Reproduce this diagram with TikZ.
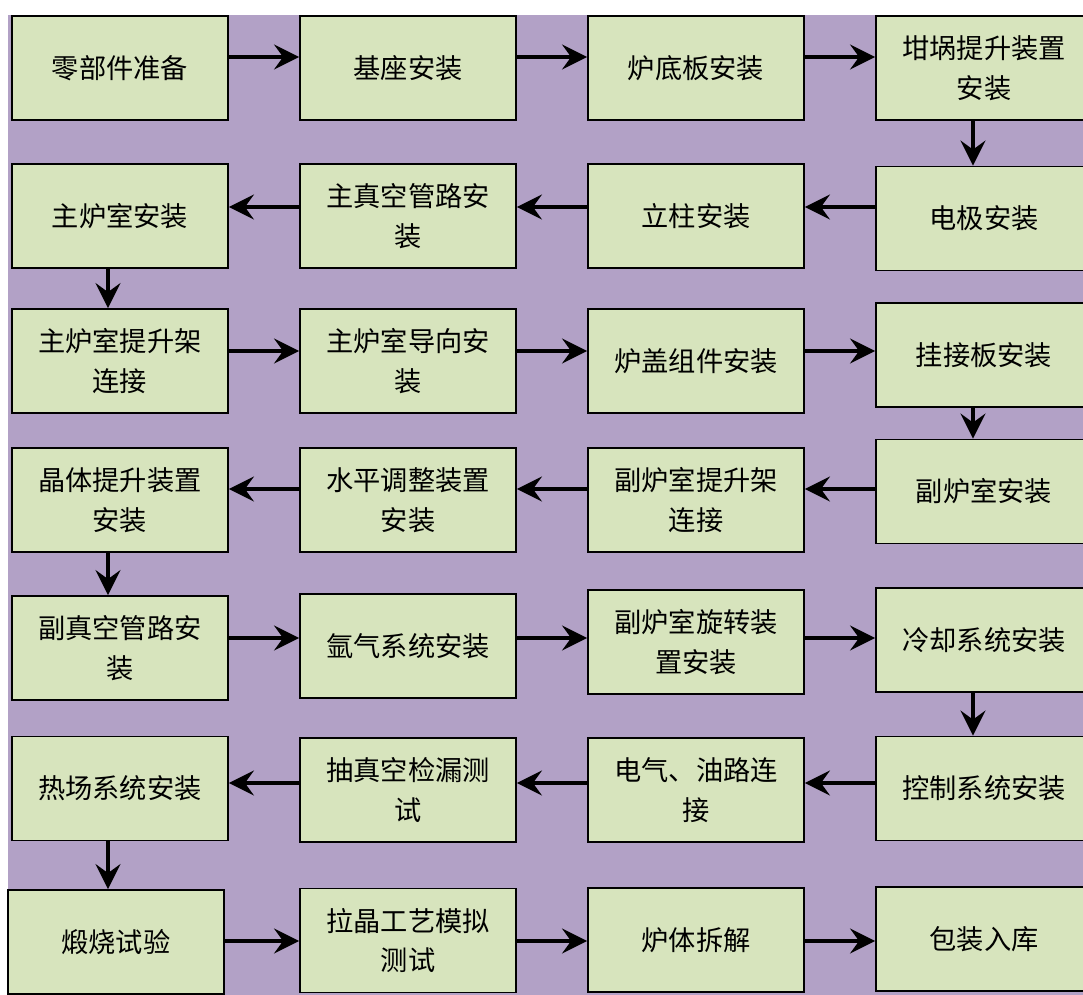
\documentclass[tikz,border=0pt]{standalone}
\usepackage{fontspec}
\newfontfamily\cjk{Noto Sans CJK SC}
\usetikzlibrary{arrows.meta}
\definecolor{BackClr}{rgb}{0.698,0.631,0.776}
\definecolor{BoxClr}{rgb}{0.843,0.894,0.741}

\begin{document}
\begin{tikzpicture}[x=0.02cm,y=-0.02cm,
  box/.style={draw=black,line width=1.1pt,fill=BoxClr,minimum width=4.32cm,minimum height=2.08cm,inner sep=0pt,align=center,font=\cjk\fontsize{15.5}{22.5}\selectfont},
  arr/.style={line width=1.9pt,-{Stealth[length=0.5cm,width=0.5cm,inset=0.18cm]}}]
\useasboundingbox (0,0) rectangle (1083,995);
\fill[BackClr] (8,15) rectangle (1083,995);

\node[box] (lbzb) at (120,68) {零部件准备};
\node[box] (jzaz) at (408,68) {基座安装};
\node[box] (ldbaz) at (696,68) {炉底板安装};
\node[box] (gguaz) at (984,68) {坩埚提升装置\\安装};

\node[box] (zlsaz) at (120,216) {主炉室安装};
\node[box] (zzkaz) at (408,216) {主真空管路安\\装};
\node[box] (lzaz) at (696,216) {立柱安装};
\node[box] (djaz) at (984,218.5) {电极安装};

\node[box] (zlstsj) at (120,361) {主炉室提升架\\连接};
\node[box] (zlsdx) at (408,361) {主炉室导向安\\装};
\node[box] (lgzj) at (696,361) {炉盖组件安装};
\node[box] (gjbaz) at (984,355) {挂接板安装};

\node[box] (jttsaz) at (120,500) {晶体提升装置\\安装};
\node[box] (sptzaz) at (408,500) {水平调整装置\\安装};
\node[box] (flstsj) at (696,500) {副炉室提升架\\连接};
\node[box] (flsaz) at (984,491.5) {副炉室安装};

\node[box] (fzkaz) at (120,648) {副真空管路安\\装};
\node[box] (yqxtaz) at (408,646) {氩气系统安装};
\node[box] (flsxz) at (696,642) {副炉室旋转装\\置安装};
\node[box] (lqxtaz) at (984,640) {冷却系统安装};

\node[box] (rcxtaz) at (120,788.5) {热场系统安装};
\node[box] (czkjl) at (408,790) {抽真空检漏测\\试};
\node[box] (dqylj) at (696,790) {电气、油路连\\接};
\node[box] (kzxtaz) at (984,788.5) {控制系统安装};

\node[box] (dssy) at (116,942) {煅烧试验};
\node[box] (ljgymn) at (408,940.5) {拉晶工艺模拟\\测试};
\node[box] (ltcj) at (696,940) {炉体拆解};
\node[box] (bzrk) at (984,939) {包装入库};

\draw[arr] (lbzb.east |- 0,57) -- (jzaz.west |- 0,57);
\draw[arr] (jzaz.east |- 0,57) -- (ldbaz.west |- 0,57);
\draw[arr] (ldbaz.east |- 0,57) -- (gguaz.west |- 0,57);
\draw[arr] (gguaz.south -| 973,0) -- (djaz.north -| 973,0);

\draw[arr] (djaz.west |- 0,207) -- (lzaz.east |- 0,207);
\draw[arr] (lzaz.west |- 0,207) -- (zzkaz.east |- 0,207);
\draw[arr] (zzkaz.west |- 0,207) -- (zlsaz.east |- 0,207);
\draw[arr] (zlsaz.south -| 108,0) -- (zlstsj.north -| 108,0);

\draw[arr] (zlstsj.east |- 0,351) -- (zlsdx.west |- 0,351);
\draw[arr] (zlsdx.east |- 0,351) -- (lgzj.west |- 0,351);
\draw[arr] (lgzj.east |- 0,351) -- (gjbaz.west |- 0,351);
\draw[arr] (gjbaz.south -| 973,0) -- (flsaz.north -| 973,0);

\draw[arr] (flsaz.west |- 0,489) -- (flstsj.east |- 0,489);
\draw[arr] (flstsj.west |- 0,489) -- (sptzaz.east |- 0,489);
\draw[arr] (sptzaz.west |- 0,489) -- (jttsaz.east |- 0,489);
\draw[arr] (jttsaz.south -| 108,0) -- (fzkaz.north -| 108,0);

\draw[arr] (fzkaz.east |- 0,638) -- (yqxtaz.west |- 0,638);
\draw[arr] (yqxtaz.east |- 0,638) -- (flsxz.west |- 0,638);
\draw[arr] (flsxz.east |- 0,638) -- (lqxtaz.west |- 0,638);
\draw[arr] (lqxtaz.south -| 973,0) -- (kzxtaz.north -| 973,0);

\draw[arr] (kzxtaz.west |- 0,783) -- (dqylj.east |- 0,783);
\draw[arr] (dqylj.west |- 0,783) -- (czkjl.east |- 0,783);
\draw[arr] (czkjl.west |- 0,783) -- (rcxtaz.east |- 0,783);
\draw[arr] (rcxtaz.south -| 108,0) -- (dssy.north -| 108,0);

\draw[arr] (dssy.east |- 0,941) -- (ljgymn.west |- 0,941);
\draw[arr] (ljgymn.east |- 0,941) -- (ltcj.west |- 0,941);
\draw[arr] (ltcj.east |- 0,941) -- (bzrk.west |- 0,941);

\end{tikzpicture}
\end{document}
